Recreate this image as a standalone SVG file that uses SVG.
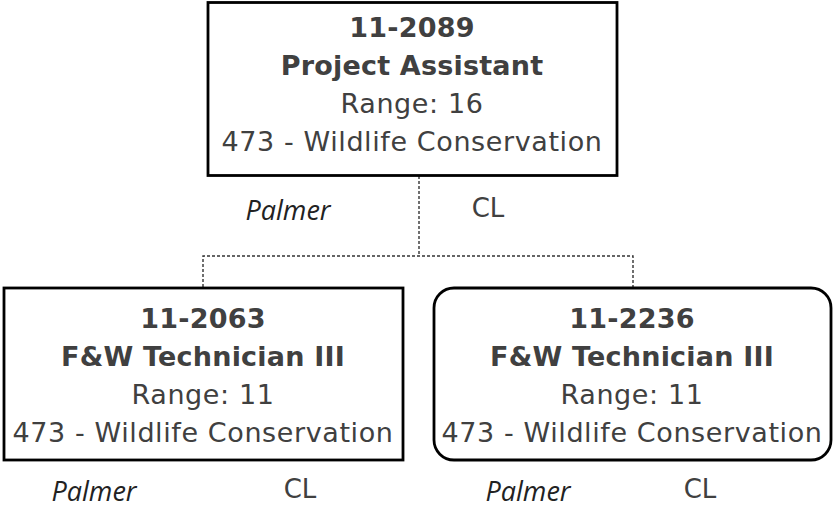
<svg xmlns="http://www.w3.org/2000/svg" width="833" height="510" viewBox="0 0 833 510">
<style>
.box{fill:#fff;stroke:#000;stroke-width:2.8}
.conn{fill:none;stroke:#333;stroke-width:1.4;stroke-dasharray:3 2}
.t{font-family:"DejaVu Sans",Verdana,sans-serif;font-size:27px;letter-spacing:0.6px;fill:#404040;text-anchor:middle}
.b{font-weight:bold;letter-spacing:0.2px}
.p{font-family:"Open Sans",sans-serif;font-style:italic;font-size:27px;fill:#222;text-anchor:middle}
.cl{font-family:"DejaVu Sans",Verdana,sans-serif;font-size:26px;fill:#404040;text-anchor:middle}
</style>
<g id="connectors">
<path class="conn" d="M419 176 V256 M203 287 V256 H633 V287"/>
</g>
<g id="node-11-2089">
<rect class="box" x="208" y="2.5" width="409" height="173"/>
<text class="t b" x="412" y="37">11-2089</text>
<text class="t b" x="412" y="75">Project Assistant</text>
<text class="t" x="412" y="113">Range: 16</text>
<text class="t" x="412" y="151">473 - Wildlife Conservation</text>
<text class="p" x="288" y="220">Palmer</text>
<text class="cl" x="488" y="217">CL</text>
</g>
<g id="node-11-2063">
<rect class="box" x="4" y="288" width="399" height="172"/>
<text class="t b" x="203" y="328">11-2063</text>
<text class="t b" x="203" y="366">F&amp;W Technician III</text>
<text class="t" x="203" y="404">Range: 11</text>
<text class="t" x="203" y="442">473 - Wildlife Conservation</text>
<text class="p" x="94" y="501">Palmer</text>
<text class="cl" x="300" y="498">CL</text>
</g>
<g id="node-11-2236">
<rect class="box" x="434" y="288" width="397" height="172" rx="20" ry="20"/>
<text class="t b" x="632" y="328">11-2236</text>
<text class="t b" x="632" y="366">F&amp;W Technician III</text>
<text class="t" x="632" y="404">Range: 11</text>
<text class="t" x="632" y="442">473 - Wildlife Conservation</text>
<text class="p" x="528" y="501">Palmer</text>
<text class="cl" x="700" y="498">CL</text>
</g>
</svg>
